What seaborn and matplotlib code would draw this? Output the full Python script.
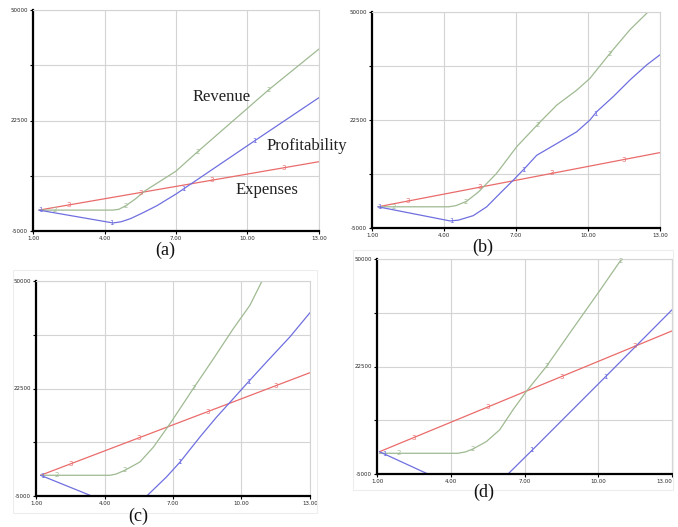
import numpy as np
import pandas as pd
import matplotlib
matplotlib.use("Agg")
import matplotlib.pyplot as plt
import seaborn as sns

# ---------------- data ----------------
x_ticks = [1, 4, 7, 10, 13]
x_tick_labels = ["1.00", "4.00", "7.00", "10.00", "13.00"]
y_ticks = [-5000, 8750, 22500, 36250, 50000]
y_tick_labels = ["-5000", "", "22500", "", "50000"]

# panel (a)
exp_a_t = [1.25, 13.0]
exp_a_v = [200, 12250]
rev_a_t = [1.25, 4.35, 4.6, 4.9, 5.3, 5.7, 7.0, 7.9, 10.9, 13.0]
rev_a_v = [200, 200, 400, 1300, 3000, 5000, 9900, 14700, 30200, 40300]
prof_a_t = [1.25, 4.36, 4.7, 5.1, 5.6, 6.2, 7.0, 7.35, 10.35, 13.0]
prof_a_v = [200, -3000, -2700, -1900, -500, 1300, 4200, 5600, 17650, 28200]

# panel (b)
exp_b_t = [1.25, 13.0]
exp_b_v = [400, 14200]
rev_b_t = [1.25, 4.2, 4.5, 4.94, 5.44, 6.19, 7.03, 7.94, 8.7, 9.53, 10.08, 10.92, 11.75, 12.5]
rev_b_v = [400, 400, 700, 1800, 4200, 8900, 15700, 21600, 26300, 30100, 33100, 39500, 45500, 50000]
prof_b_t = [1.25, 4.25, 4.6, 5.22, 5.78, 6.33, 6.89, 7.38, 7.86, 8.7, 9.53, 10.08, 10.36, 11.06, 11.75, 12.44, 13.0]
prof_b_v = [400, -3200, -3000, -1850, 400, 3800, 7200, 10300, 13500, 16500, 19500, 22500, 24600, 28500, 32700, 36500, 39100]

# panel (c)
exp_c_t = [1.2, 13.0]
exp_c_v = [300, 26550]
rev_c_t = [1.2, 4.24, 4.5, 4.9, 5.55, 6.14, 6.87, 7.89, 8.77, 9.64, 10.37, 10.9]
rev_c_v = [300, 300, 600, 1600, 3700, 7500, 13500, 22500, 30100, 37800, 43800, 50000]
prof_c_t = [1.2, 3.44, 4.5, 5.85, 6.72, 7.31, 8.18, 8.91, 9.64, 10.3, 11.1, 12.12, 13.0]
prof_c_v = [300, -5000, -7500, -5000, -100, 3700, 10100, 15200, 19900, 24200, 29300, 35700, 41900]

# panel (d)
exp_d_t = [1.1, 13.0]
exp_d_v = [700, 31600]
rev_d_t = [1.1, 4.29, 4.6, 4.9, 5.45, 5.99, 6.53, 7.07, 7.89, 8.97, 10.06, 10.94]
rev_d_v = [300, 300, 650, 1400, 3300, 6300, 11400, 16100, 22500, 32200, 41900, 49900]
prof_d_t = [1.1, 3.07, 4.7, 6.33, 7.32, 10.33, 13.0]
prof_d_v = [700, -5000, -9000, -5000, 1150, 20100, 37000]

panel_letters = ["(a)", "(b)", "(c)", "(d)"]
series_marks = {"1": 1.3, "2": 1.9, "3": 2.5}  # first position of the inline number markers

# ---------------- style ----------------
sns.set_theme(style="white")
plt.rcParams["font.family"] = ["DejaVu Sans"]

c_prof = "#6f6fe0"
c_rev = "#9fba92"
c_exp = "#ea6b6b"

fig = plt.figure(figsize=(6.78, 5.27), dpi=100)

rects = [
    [33 / 678, 1 - 231 / 527, 286 / 678, 221 / 527],
    [372 / 678, 1 - 228 / 527, 288 / 678, 216 / 527],
    [36 / 678, 1 - 496 / 527, 274 / 678, 215 / 527],
    [377 / 678, 1 - 474 / 527, 295 / 678, 215 / 527],
]

panels = [
    (exp_a_t, exp_a_v, rev_a_t, rev_a_v, prof_a_t, prof_a_v),
    (exp_b_t, exp_b_v, rev_b_t, rev_b_v, prof_b_t, prof_b_v),
    (exp_c_t, exp_c_v, rev_c_t, rev_c_v, prof_c_t, prof_c_v),
    (exp_d_t, exp_d_v, rev_d_t, rev_d_v, prof_d_t, prof_d_v),
]

# faint frames around lower panels
from matplotlib.patches import Rectangle
for (x0, y0, x1, y1) in [(13, 270, 317, 513), (353, 250, 673, 490)]:
    fig.patches.append(Rectangle((x0 / 678, 1 - y1 / 527), (x1 - x0) / 678, (y1 - y0) / 527,
                                 transform=fig.transFigure, fill=False,
                                 edgecolor="#ededed", linewidth=0.8))

axes = []
for rect, (et, ev, rt, rv, pt, pv) in zip(rects, panels):
    ax = fig.add_axes(rect)
    axes.append(ax)
    for T, V, col, key in [(et, ev, c_exp, "3"), (rt, rv, c_rev, "2"), (pt, pv, c_prof, "1")]:
        df = pd.DataFrame({"t": T, "v": V})
        sns.lineplot(data=df, x="t", y="v", ax=ax, color=col, linewidth=0.9, sort=False)
        for k in range(4):
            tm = series_marks[key] + 3 * k
            if tm > T[-1]:
                continue
            vm = np.interp(tm, T, V)
            if -5000 < vm < 50000:
                ax.text(tm, vm, key, color=col, fontsize=5, ha="center", va="center")
    ax.set_xlim(1, 13)
    ax.set_ylim(-5000, 50000)
    ax.set_xticks(x_ticks)
    ax.set_xticklabels(x_tick_labels)
    ax.set_yticks(y_ticks)
    ax.set_yticklabels(y_tick_labels)
    ax.set_xlabel("")
    ax.set_ylabel("")
    ax.grid(True, color="#d4d4d4", linewidth=0.8)
    ax.tick_params(axis="both", labelsize=4, length=2, width=0.8, color="black", pad=1.5,
                   direction="out", left=True, bottom=True)
    for s in ["left", "bottom"]:
        ax.spines[s].set_color("black")
        ax.spines[s].set_linewidth(1.6)
    for s in ["top", "right"]:
        ax.spines[s].set_color("#d4d4d4")
        ax.spines[s].set_linewidth(0.8)

# keep the last tick label of panel (d) inside the figure
axes[3].get_xticklabels()[-1].set_horizontalalignment("right")

# series names in panel (a)
serif = ["Liberation Serif", "DejaVu Serif"]
axes[0].text(8.93, 28350, "Revenue", fontsize=12, family=serif, ha="center", va="center",
             color="#222222", clip_on=False)
axes[0].text(10.78, 16150, "Profitability", fontsize=12, family=serif, ha="left", va="center",
             color="#222222", clip_on=False)
axes[0].text(10.82, 5200, "Expenses", fontsize=12, family=serif, ha="center", va="center",
             color="#222222", clip_on=False)

letter_pos = [(165, 250), (483, 247), (138, 516), (484, 492)]
for lab, (px, py) in zip(panel_letters, letter_pos):
    fig.text(px / 678, 1 - py / 527, lab, fontsize=13, family=serif, ha="center", va="center",
             color="#111111")

fig.savefig("out.png", dpi=100)
